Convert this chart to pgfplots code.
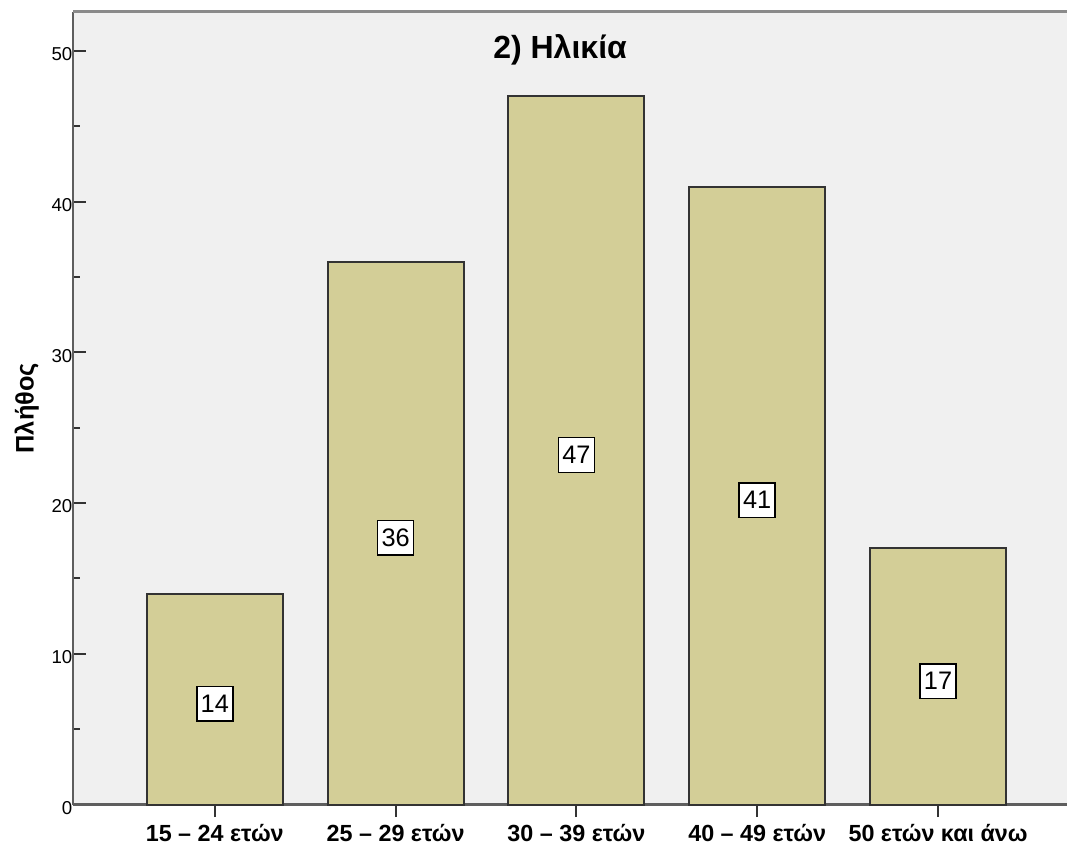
\documentclass[border=0pt]{standalone}
\usepackage{fontspec}
\setmainfont{Liberation Sans}
\usepackage{pgfplots}
\pgfplotsset{compat=1.18}
\usepackage{pgfplotstable}
\definecolor{bgGray}{HTML}{F0F0F0}
\definecolor{barFill}{HTML}{D3CE97}
\definecolor{barEdge}{HTML}{333333}
\definecolor{axGray}{HTML}{5E5E5E}
\definecolor{frameGray}{HTML}{8A8A8A}

\pgfplotstableread{
x v
0 14
1 36
2 47
3 41
4 17
}\agedata

\begin{document}
\begin{tikzpicture}
\useasboundingbox (-54.75pt,-30.4pt) rectangle (745.5pt,603.4pt);
\begin{axis}[
  at={(0,0)}, anchor=south west,
  scale only axis, width=745.5pt, height=594.4pt,
  xmin=-0.784, xmax=4.713, ymin=0, ymax=52.58,
  axis background/.style={fill=bgGray},
  axis y line*=left, axis x line*=bottom,
  axis line style={-, axGray, line width=2pt},
  xtick={0,1,2,3,4},
  xticklabels={15 – 24 ετών, 25 – 29 ετών, 30 – 39 ετών, 40 – 49 ετών, 50 ετών και άνω},
  ytick={0,10,20,30,40,50},
  minor ytick={5,15,25,35,45},
  xtick align=outside, ytick align=inside,
  major tick length=9.5pt, minor tick length=5.25pt,
  tick style={barEdge, line width=1.5pt},
  xticklabel style={font=\fontsize{17.5}{20}\selectfont\bfseries, inner sep=0pt, yshift=-5.5pt},
  yticklabel style={font=\fontsize{14}{16}\selectfont, inner sep=0.3pt, yshift=-2.5pt},
  /pgf/number format/assume math mode=true,
  clip=false,
]
\addplot[ybar, bar width=0.752, fill=barFill, draw=barEdge, line width=1.5pt] table[x=x,y=v]{\agedata};
\addplot[draw=none, mark=none, nodes near coords, point meta=explicit,
  every node near coord/.append style={anchor=center, yshift=-3.5pt, fill=white, draw=black, line width=1.2pt,
    minimum width=27pt, minimum height=26pt, inner sep=0pt,
    font=\fontsize{19}{21}\selectfont}]
  table[x=x, y expr=\thisrow{v}/2, meta=v]{\agedata};
\draw[frameGray, line width=2.25pt] (rel axis cs:0,1) -- (rel axis cs:1.05,1);
\node[font=\fontsize{24}{28}\selectfont\bfseries, anchor=base] at (rel axis cs:0.49,0.9407) {2) Ηλικία};
\node[font=\fontsize{19}{22}\selectfont\bfseries, rotate=90, anchor=base] at (rel axis cs:-0.0397,0.5) {Πλήθος};
\end{axis}
\end{tikzpicture}
\end{document}
